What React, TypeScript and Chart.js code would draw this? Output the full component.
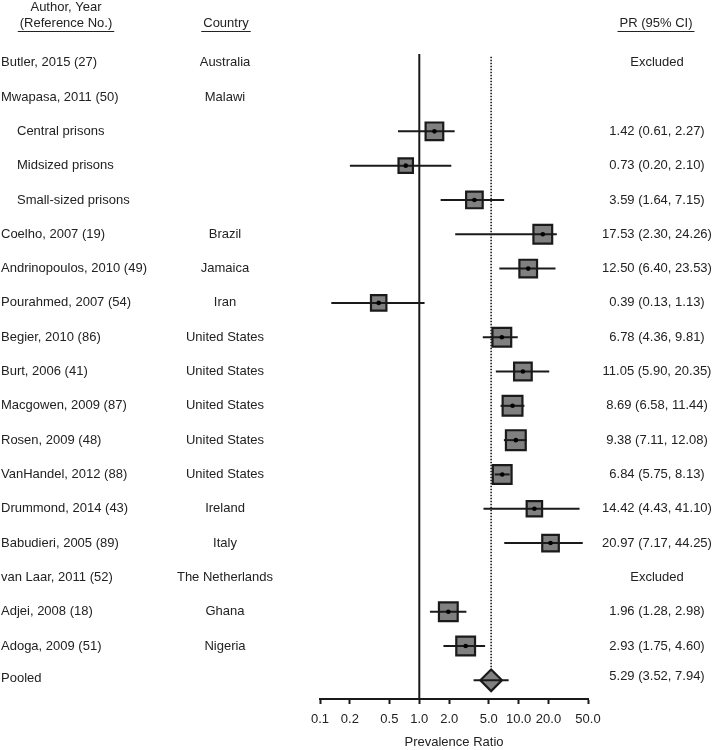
import React, { useEffect, useRef } from 'react';
import { Chart, registerables } from 'chart.js';

Chart.register(...registerables);

// ---------------- data ----------------
const studies = [
  'Butler, 2015 (27)',
  'Mwapasa, 2011 (50)',
  'Central prisons',
  'Midsized prisons',
  'Small-sized prisons',
  'Coelho, 2007 (19)',
  'Andrinopoulos, 2010 (49)',
  'Pourahmed, 2007 (54)',
  'Begier, 2010 (86)',
  'Burt, 2006 (41)',
  'Macgowen, 2009 (87)',
  'Rosen, 2009 (48)',
  'VanHandel, 2012 (88)',
  'Drummond, 2014 (43)',
  'Babudieri, 2005 (89)',
  'van Laar, 2011 (52)',
  'Adjei, 2008 (18)',
  'Adoga, 2009 (51)',
];
const subgroup = [false, false, true, true, true, false, false, false, false, false, false, false, false, false, false, false, false, false];
const countries = [
  'Australia', 'Malawi', '', '', '', 'Brazil', 'Jamaica', 'Iran',
  'United States', 'United States', 'United States', 'United States', 'United States',
  'Ireland', 'Italy', 'The Netherlands', 'Ghana', 'Nigeria',
];
const excluded = [true, false, false, false, false, false, false, false, false, false, false, false, false, false, false, true, false, false];
const pr = [null, null, 1.42, 0.73, 3.59, 17.53, 12.5, 0.39, 6.78, 11.05, 8.69, 9.38, 6.84, 14.42, 20.97, null, 1.96, 2.93];
const lower = [null, null, 0.61, 0.2, 1.64, 2.3, 6.4, 0.13, 4.36, 5.9, 6.58, 7.11, 5.75, 4.43, 7.17, null, 1.28, 1.75];
const upper = [null, null, 2.27, 2.1, 7.15, 24.26, 23.53, 1.13, 9.81, 20.35, 11.44, 12.08, 8.13, 41.1, 44.25, null, 2.98, 4.6];
// relative study weights (square area)
const weights = [0, 0, 5.6, 3.9, 5.0, 6.25, 5.6, 4.4, 6.25, 5.6, 6.9, 6.9, 6.25, 4.4, 5.0, 0, 6.25, 6.25];

const pooledLabel = 'Pooled';
const pooledPR = 5.29;
const pooledLower = 3.52;
const pooledUpper = 7.94;

const xTicks = [0.1, 0.2, 0.5, 1, 2, 5, 10, 20, 50];
const nullValue = 1;

// ---------------- styles ----------------
const FONT = '"Liberation Sans", Arial, Helvetica, sans-serif';
const FS = 13;
const TEXT = '#222222';
const INK = '#1a1a1a';
const BOX_FILL = '#808080';

const fmt = (v: number) => v.toFixed(2);

export default function App() {
  const ref = useRef<HTMLCanvasElement | null>(null);

  useEffect(() => {
    if (!ref.current) return;
    const pooledRow = studies.length;
    const yMin = -0.662;
    const yMax = 18.545;

    const datasets: any[] = [];

    // null reference line at PR = 1
    datasets.push({
      type: 'line',
      data: [{ x: nullValue, y: -0.254 }, { x: nullValue, y: yMax }],
      borderColor: INK,
      borderWidth: 2,
      pointRadius: 0,
      order: 9,
    });

    // squares
    const sq: any[] = [];
    const radii: number[] = [];
    pr.forEach((v, i) => {
      if (v == null) return;
      sq.push({ x: v, y: i });
      const side = Math.sqrt(weights[i]) * 8.3;
      radii.push((side - 2) / Math.SQRT2);
    });
    datasets.push({
      type: 'scatter',
      data: sq,
      pointStyle: 'rect',
      pointRadius: radii,
      backgroundColor: BOX_FILL,
      borderColor: INK,
      borderWidth: 2.2,
      order: 6,
    });

    // CI lines
    pr.forEach((v, i) => {
      if (v == null) return;
      datasets.push({
        type: 'line',
        data: [{ x: lower[i], y: i }, { x: upper[i], y: i }],
        borderColor: INK,
        borderWidth: 2,
        pointRadius: 0,
        order: 4,
      });
    });

    // center dots
    datasets.push({
      type: 'scatter',
      data: sq,
      pointStyle: 'circle',
      pointRadius: 2.3,
      backgroundColor: '#000',
      borderWidth: 0,
      order: 2,
    });

    // pooled diamond
    datasets.push({
      type: 'scatter',
      data: [{ x: pooledPR, y: pooledRow }],
      pointStyle: 'rectRot',
      pointRadius: 10.8,
      backgroundColor: BOX_FILL,
      borderColor: INK,
      borderWidth: 2.2,
      order: 6,
    });
    datasets.push({
      type: 'line',
      data: [{ x: pooledLower, y: pooledRow }, { x: pooledUpper, y: pooledRow }],
      borderColor: INK,
      borderWidth: 2,
      pointRadius: 0,
      order: 4,
    });

    const dottedPlugin = {
      id: 'dotted',
      beforeDatasetsDraw(chart: any) {
        const { ctx, scales } = chart;
        const x = scales.x.getPixelForValue(pooledPR);
        const y0 = scales.y.getPixelForValue(-0.175);
        const y1 = scales.y.getPixelForValue(pooledRow) - 11.5;
        ctx.save();
        ctx.strokeStyle = INK;
        ctx.lineWidth = 1.6;
        ctx.setLineDash([1.6, 1.4]);
        ctx.beginPath();
        ctx.moveTo(x, y0);
        ctx.lineTo(x, y1);
        ctx.stroke();
        ctx.restore();
      },
    };

    const textPlugin = {
      id: 'texts',
      afterDraw(chart: any) {
        const { ctx, scales } = chart;
        ctx.save();
        ctx.font = `${FS}px ${FONT}`;
        ctx.fillStyle = TEXT;
        ctx.strokeStyle = TEXT;
        ctx.textBaseline = 'middle';
        const centered = (t: string, x: number, y: number, underline = false) => {
          ctx.textAlign = 'center';
          ctx.fillText(t, x, y);
          if (underline) {
            const w = ctx.measureText(t).width;
            ctx.lineWidth = 1;
            ctx.beginPath();
            ctx.moveTo(x - w / 2 - 2, y + 8.5);
            ctx.lineTo(x + w / 2 + 2, y + 8.5);
            ctx.stroke();
          }
        };
        // headers
        centered('Author, Year', 66, 7);
        centered('(Reference No.)', 66, 23, true);
        centered('Country', 226, 23, true);
        centered('PR (95% CI)', 656, 23, true);

        studies.forEach((s, i) => {
          const y = scales.y.getPixelForValue(i);
          ctx.textAlign = 'left';
          ctx.fillText(s, subgroup[i] ? 17 : 1, y);
          if (countries[i]) centered(countries[i], 225, y);
          const v = pr[i];
          let lab = '';
          if (v != null) lab = `${fmt(v)} (${fmt(lower[i] as number)}, ${fmt(upper[i] as number)})`;
          else if (excluded[i]) lab = 'Excluded';
          if (lab) centered(lab, 657, y);
        });
        const yp = scales.y.getPixelForValue(pooledRow);
        ctx.textAlign = 'left';
        ctx.fillText(pooledLabel, 1, yp - 2);
        centered(`${fmt(pooledPR)} (${fmt(pooledLower)}, ${fmt(pooledUpper)})`, 657, yp - 4);
        ctx.restore();
      },
    };

    const chart = new Chart(ref.current, {
      type: 'scatter',
      data: { datasets },
      options: {
        animation: false,
        responsive: false,
        maintainAspectRatio: false,
        layout: { padding: { left: 320, right: 127, top: 40, bottom: 0 } },
        plugins: { legend: { display: false }, tooltip: { enabled: false } },
        scales: {
          x: {
            type: 'logarithmic',
            min: 0.1,
            max: 50,
            afterBuildTicks: (scale: any) => {
              scale.ticks = xTicks.map((v) => ({ value: v }));
            },
            afterFit: (scale: any) => {
              scale.height = 51;
            },
            ticks: {
              autoSkip: false,
              maxRotation: 0,
              padding: 8,
              color: TEXT,
              font: { family: FONT, size: FS },
              callback: (v: any) => Number(v).toFixed(1),
            },
            grid: {
              drawOnChartArea: false,
              drawTicks: true,
              tickLength: 5,
              tickWidth: 2,
              tickColor: INK,
            },
            border: { display: true, color: INK, width: 2 },
            title: {
              display: true,
              text: 'Prevalence Ratio',
              color: TEXT,
              font: { family: FONT, size: FS },
              padding: { top: 4, bottom: 0 },
            },
          },
          y: {
            type: 'linear',
            min: yMin,
            max: yMax,
            reverse: true,
            display: false,
          },
        },
      },
      plugins: [dottedPlugin, textPlugin],
    } as any);
    return () => chart.destroy();
  }, []);

  return (
    <div style={{ position: 'absolute', left: 0, top: 0, width: 715, height: 750, background: '#fff' }}>
      <canvas ref={ref} width={715} height={750} style={{ display: 'block' }} />
    </div>
  );
}
